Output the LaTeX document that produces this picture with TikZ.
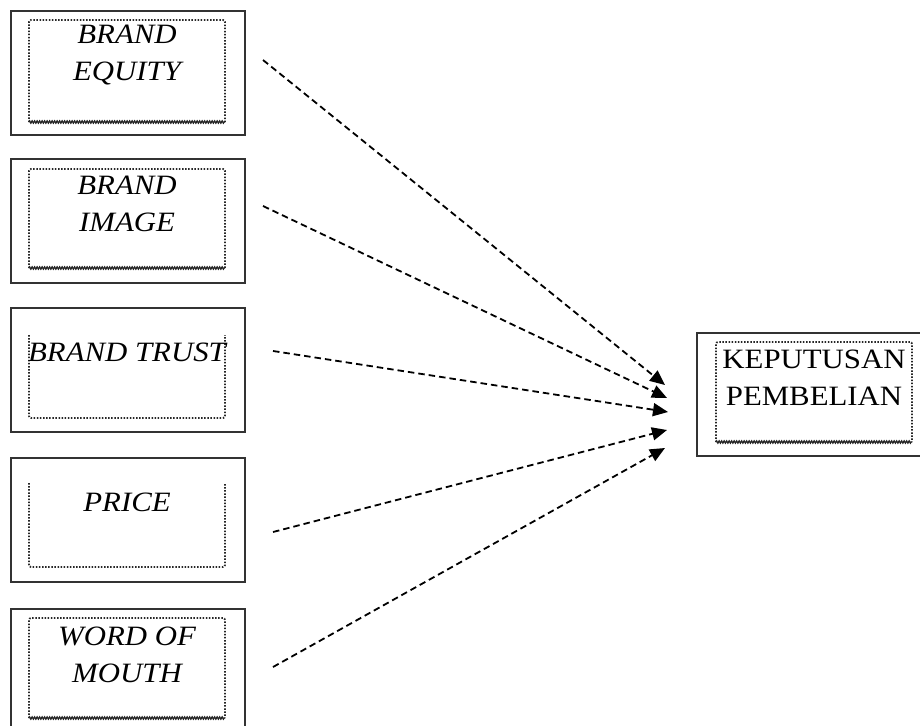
\documentclass[tikz,border=0pt]{standalone}
\usepackage{fontspec}
\setmainfont{Liberation Serif}[FakeStretch=1.1]
\usetikzlibrary{arrows.meta,decorations.pathmorphing}

\begin{document}
\begin{tikzpicture}[x=1pt,y=-1pt,
    kotak/.style={draw=black!80,line width=2.4pt,minimum width=234pt,minimum height=124pt,anchor=north west,inner sep=0pt},
    titik/.style={line width=1.8pt,dash pattern=on 1.5pt off 1.6pt,black!85,rounded corners=2pt},
    gelombang/.style={line width=1.3pt,black!85,decorate,decoration={zigzag,segment length=2.5pt,amplitude=1.1pt}},
    teks/.style={font=\fontsize{28}{37}\selectfont\itshape,align=center,anchor=base,inner sep=0pt},
    panah/.style={line width=1.8pt,dash pattern=on 6.5pt off 4pt,-{Triangle[length=15pt,width=13pt]}}]
        \useasboundingbox (0,0) rectangle (920,725);
        \clip (0,0) rectangle (920,725);
        % kotak luar
        \node[kotak] (equity) at (10,10) {};
        \node[kotak] (image) at (10,158) {};
        \node[kotak] (trust) at (10,307) {};
        \node[kotak] (price) at (10,457) {};
        \node[kotak,minimum height=130pt] (wom) at (10,608) {};
        \node[kotak,minimum width=228pt,minimum height=123pt] (kp) at (696,332) {};
        % kotak titik-titik di dalam
        \draw[titik] (29,122) -- (29,20) -- (225,20) -- (225,122);
        \draw[gelombang] (29,122) -- (225,122);
        \draw[titik] (29,268) -- (29,169) -- (225,169) -- (225,268);
        \draw[gelombang] (29,268) -- (225,268);
        \draw[titik] (29,335) -- (29,418) -- (225,418) -- (225,335);
        \draw[titik] (29,483) -- (29,567) -- (225,567) -- (225,483);
        \draw[titik] (29,718) -- (29,618) -- (225,618) -- (225,718);
        \draw[gelombang] (29,718) -- (225,718);
        \draw[titik] (716,442) -- (716,342) -- (912,342) -- (912,442);
        \draw[gelombang] (716,442) -- (912,442);
        % teks (base = garis dasar baris terakhir)
        \node[teks] (tequity) at (127,81) {BRAND\\EQUITY};
        \node[teks] (timage) at (127,231) {BRAND\\IMAGE};
        \node[teks] (ttrust) at (127,361) {BRAND TRUST};
        \node[teks] (tprice) at (127,511) {PRICE};
        \node[teks] (twom) at (127,682) {WORD OF\\MOUTH};
        \node[teks,font=\fontsize{28}{37}\selectfont] (tkp) at (814,405) {KEPUTUSAN\\PEMBELIAN};
        % panah
        \coordinate (s1) at (263,60);  \coordinate (t1) at (665,385);
        \coordinate (s2) at (263,206); \coordinate (t2) at (667,398);
        \coordinate (s3) at (273,351); \coordinate (t3) at (668,412);
        \coordinate (s4) at (273,532); \coordinate (t4) at (667,430);
        \coordinate (s5) at (273,667); \coordinate (t5) at (665,448);
        \foreach \i in {1,...,5}
            \draw[panah] (s\i) -- (t\i);
\end{tikzpicture}
\end{document}
